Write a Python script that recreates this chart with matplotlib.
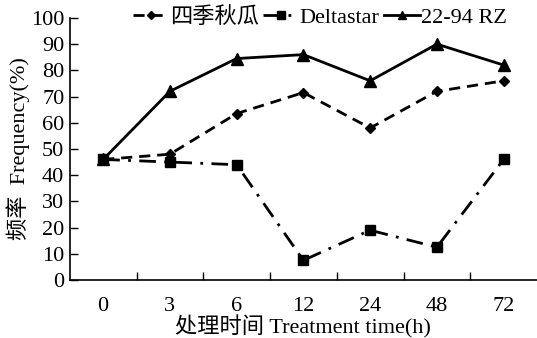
import numpy as np
import matplotlib.pyplot as plt

times = ['0', '3', '6', '12', '24', '48', '72']
siji = [46, 48, 63.5, 71.5, 58, 72, 76]
deltastar = [46, 45, 44, 7.5, 19, 12.5, 46]
rz = [46, 72, 84.5, 86, 76, 90, 82]

plt.rcParams['font.family'] = ['Liberation Serif', 'Noto Sans CJK SC']
plt.rcParams['font.size'] = 16

fig = plt.figure(figsize=(5.37, 3.38), dpi=100)
ax = fig.add_axes([0.130, 0.1716, 0.87, 0.7754])

x = np.arange(len(times))
ax.plot(x, siji, linestyle=(0, (4, 2.5)), color='black', lw=2, marker='D', ms=5.5, label='四季秋瓜')
ax.plot(x, deltastar, linestyle=(0, (6, 3, 1, 3)), color='black', lw=2, marker='s', ms=7.5, label='Deltastar')
ax.plot(x, rz, linestyle='-', color='black', lw=2, marker='^', ms=8, label='22-94 RZ')

ax.set_xlim(-0.5, 6.5)
ax.set_ylim(0, 100)
ax.set_xticks(x)
ax.set_xticklabels(times)
ax.set_xticks(np.arange(0.5, 6.5, 1), minor=True)
ax.tick_params(axis='x', which='major', length=0, pad=12)
ax.tick_params(axis='x', which='minor', direction='in', length=6, width=1)
ax.set_yticks(range(0, 101, 10))
ax.tick_params(axis='y', direction='in', length=6, width=1, pad=4)

for s in ['top', 'right']:
    ax.spines[s].set_visible(False)
for s in ['left', 'bottom']:
    ax.spines[s].set_linewidth(1.2)

ax.set_xlabel('处理时间 Treatment time(h)', labelpad=0)
ax.set_ylabel('频率  Frequency(%)')
ax.yaxis.set_label_coords(-0.085, 0.5)

ax.legend(loc='upper center', bbox_to_anchor=(0.535, 1.075), ncol=3, frameon=False,
          handlelength=1.6, handletextpad=0.05, columnspacing=0.2, borderaxespad=0,
          markerscale=0.75)

fig.savefig('out.png', dpi=100)
